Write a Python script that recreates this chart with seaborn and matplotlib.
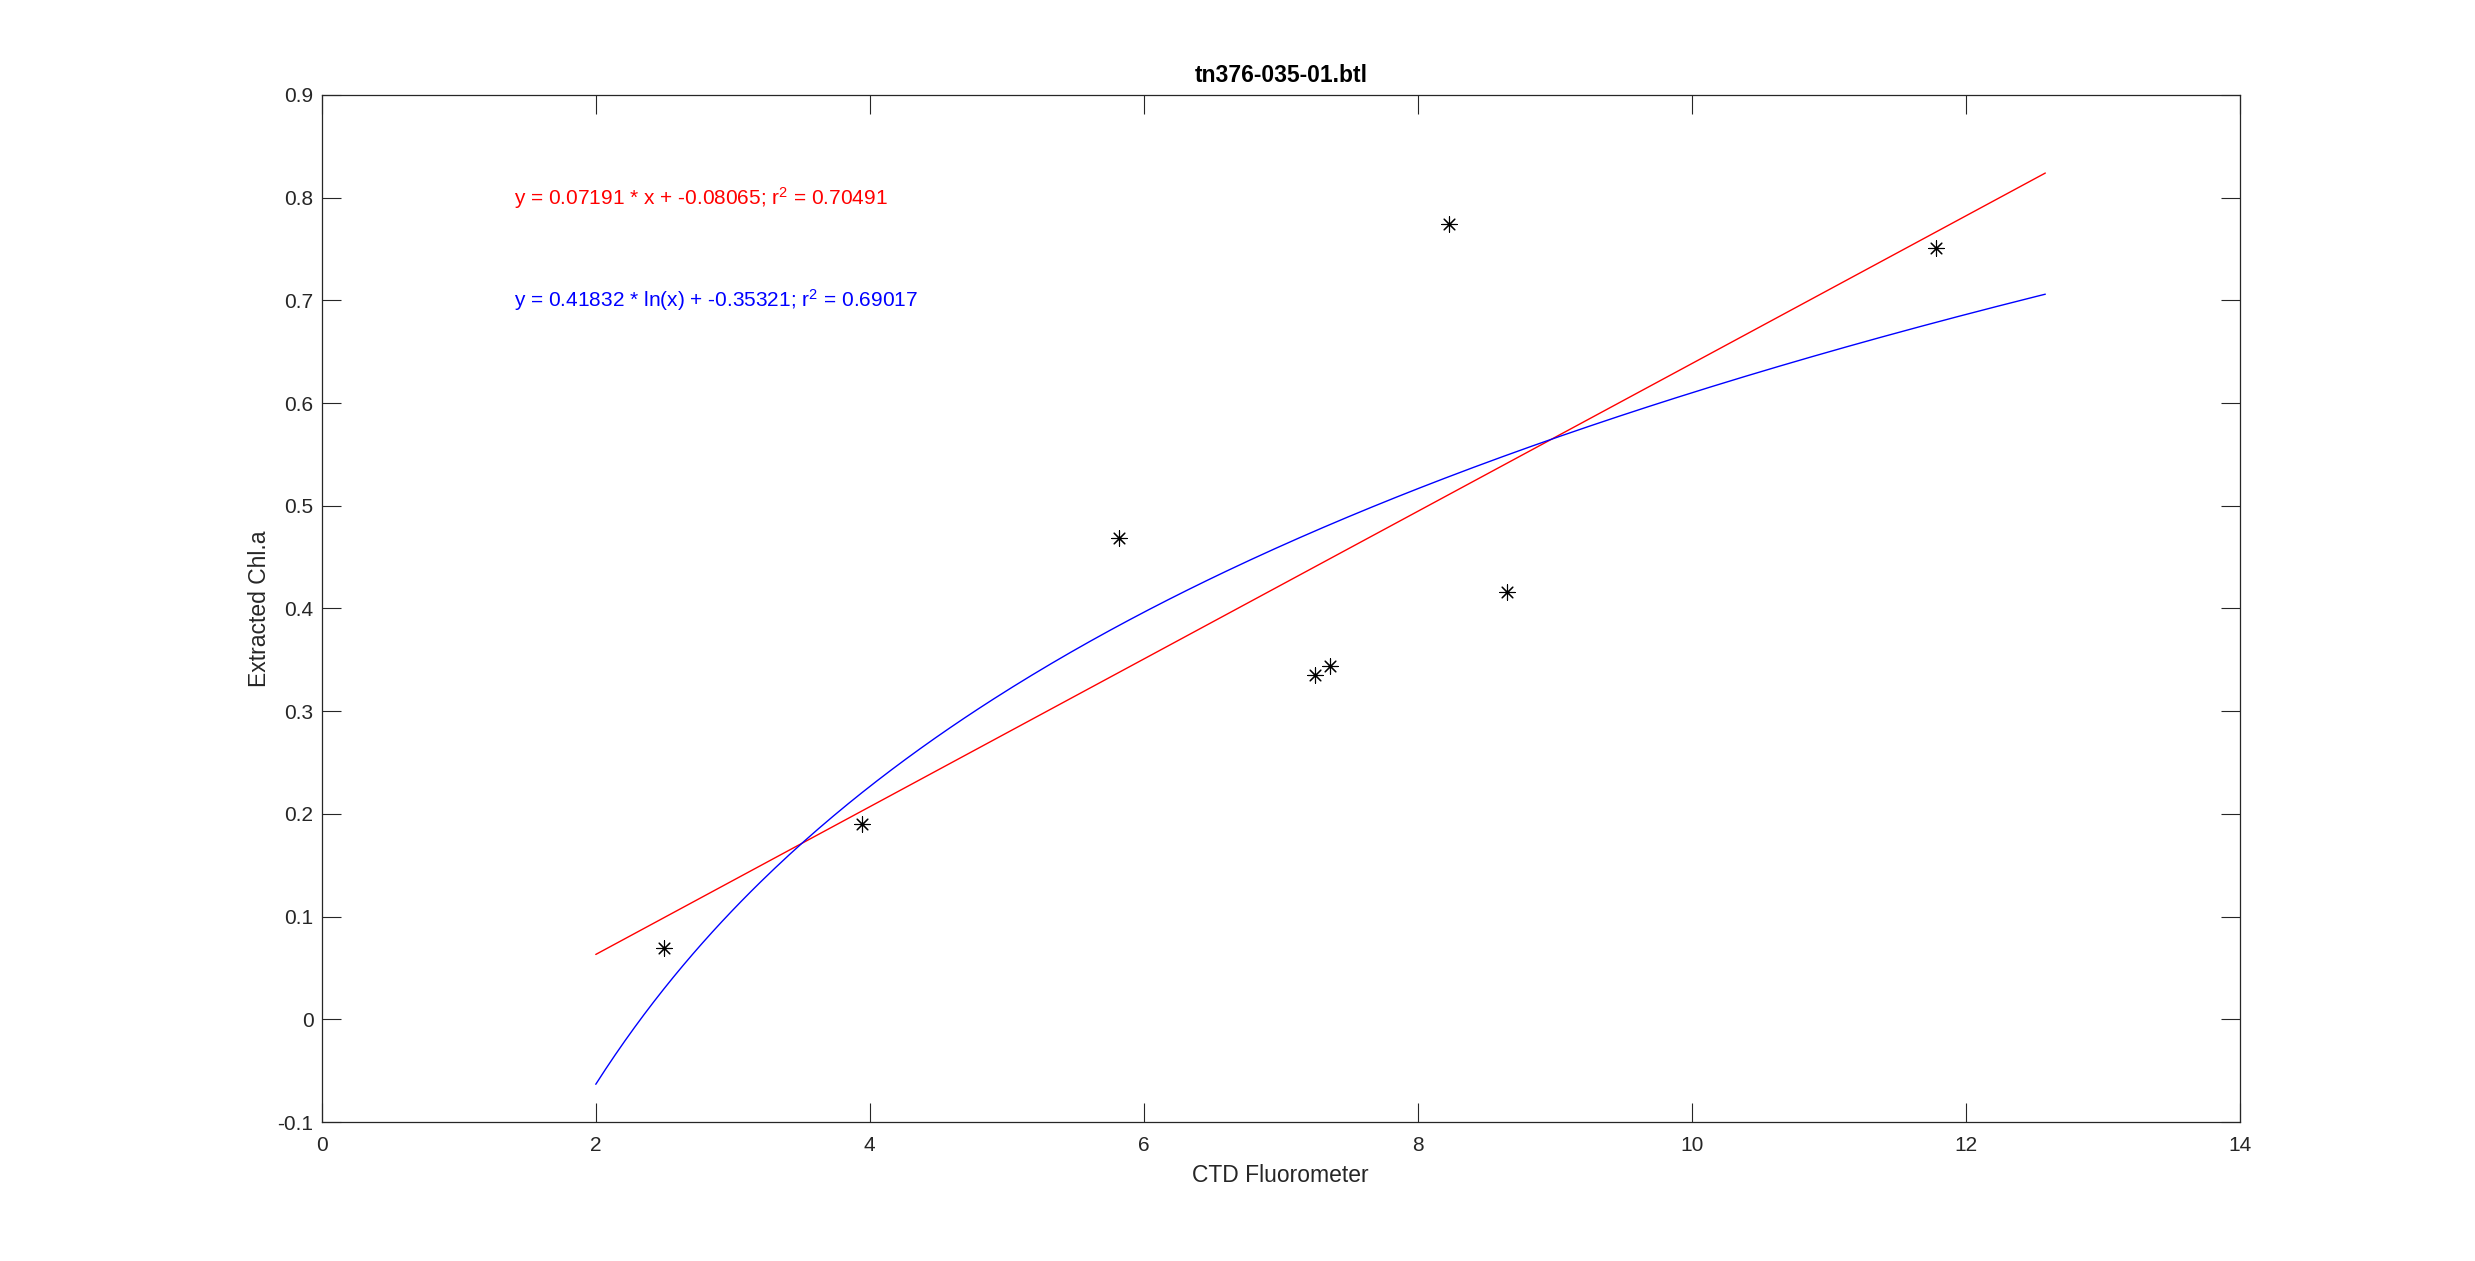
import numpy as np
import matplotlib
matplotlib.use("Agg")
import matplotlib.pyplot as plt
import seaborn as sns

# bottle samples: CTD fluorometer vs extracted chlorophyll
ctd_fluor = [2.50, 3.94, 5.82, 7.25, 7.36, 8.23, 8.65, 11.78]
chl_a = [0.069, 0.190, 0.469, 0.335, 0.344, 0.774, 0.416, 0.751]

# fit coefficients as printed on the chart
lin_slope, lin_icept, lin_r2 = 0.07191, -0.08065, 0.70491
log_slope, log_icept, log_r2 = 0.41832, -0.35321, 0.69017
fit_range = [2.0, 12.58]

x_ticks = [0, 2, 4, 6, 8, 10, 12, 14]
y_ticks = [-0.1, 0, 0.1, 0.2, 0.3, 0.4, 0.5, 0.6, 0.7, 0.8, 0.9]

sns.set_theme(style="white")
plt.rcParams["font.family"] = ["Liberation Sans", "DejaVu Sans"]
plt.rcParams["mathtext.default"] = "regular"

dark = "#262626"

fig = plt.figure(figsize=(24.75, 12.61), dpi=100)
fig.patch.set_facecolor("white")
ax = fig.add_axes([0.13, 0.1102, 0.775, 0.8145])

xs = np.linspace(fit_range[0], fit_range[1], 300)
sns.lineplot(x=xs, y=lin_slope * xs + lin_icept, color="#ff0000", linewidth=1.0, ax=ax)
sns.lineplot(x=xs, y=log_slope * np.log(xs) + log_icept, color="#0000ff", linewidth=1.0, ax=ax)
sns.scatterplot(x=ctd_fluor, y=chl_a, marker=(8, 2, 0), s=120, color="black",
                edgecolor="black", linewidth=0.8, ax=ax, zorder=5)

ax.text(1.4, 0.8, f"y = {lin_slope:.5f} * x + {lin_icept:.5f}; r$^2$ = {lin_r2:.5f}",
        color="#ff0000", fontsize=15, va="center", ha="left")
ax.text(1.4, 0.7, f"y = {log_slope:.5f} * ln(x) + {log_icept:.5f}; r$^2$ = {log_r2:.5f}",
        color="#0000ff", fontsize=15, va="center", ha="left")

ax.set_xlim(0, 14)
ax.set_ylim(-0.1, 0.9)
ax.set_xticks(x_ticks)
ax.set_yticks(y_ticks)
ax.set_xticklabels([str(t) for t in x_ticks])
ax.set_yticklabels([f"{t:g}" for t in y_ticks])

ax.tick_params(direction="in", length=14, width=0.8, colors=dark, labelsize=15,
               top=True, right=True, bottom=True, left=True)
ax.tick_params(axis="x", pad=10)
ax.tick_params(axis="y", pad=6)
for sp in ax.spines.values():
    sp.set_visible(True)
    sp.set_color(dark)
    sp.set_linewidth(0.9)

ax.set_xlabel("CTD Fluorometer", fontsize=16.5, color=dark, va="center")
ax.set_ylabel("Extracted Chl.a", fontsize=16.5, color=dark, va="center")
ax.xaxis.set_label_coords(0.5, -0.0525)
ax.yaxis.set_label_coords(-0.0325, 0.5)
ax.set_title("tn376-035-01.btl", fontsize=16.5, fontweight="bold", color="black", pad=9)

fig.savefig("out.png", dpi=100, facecolor="white")
